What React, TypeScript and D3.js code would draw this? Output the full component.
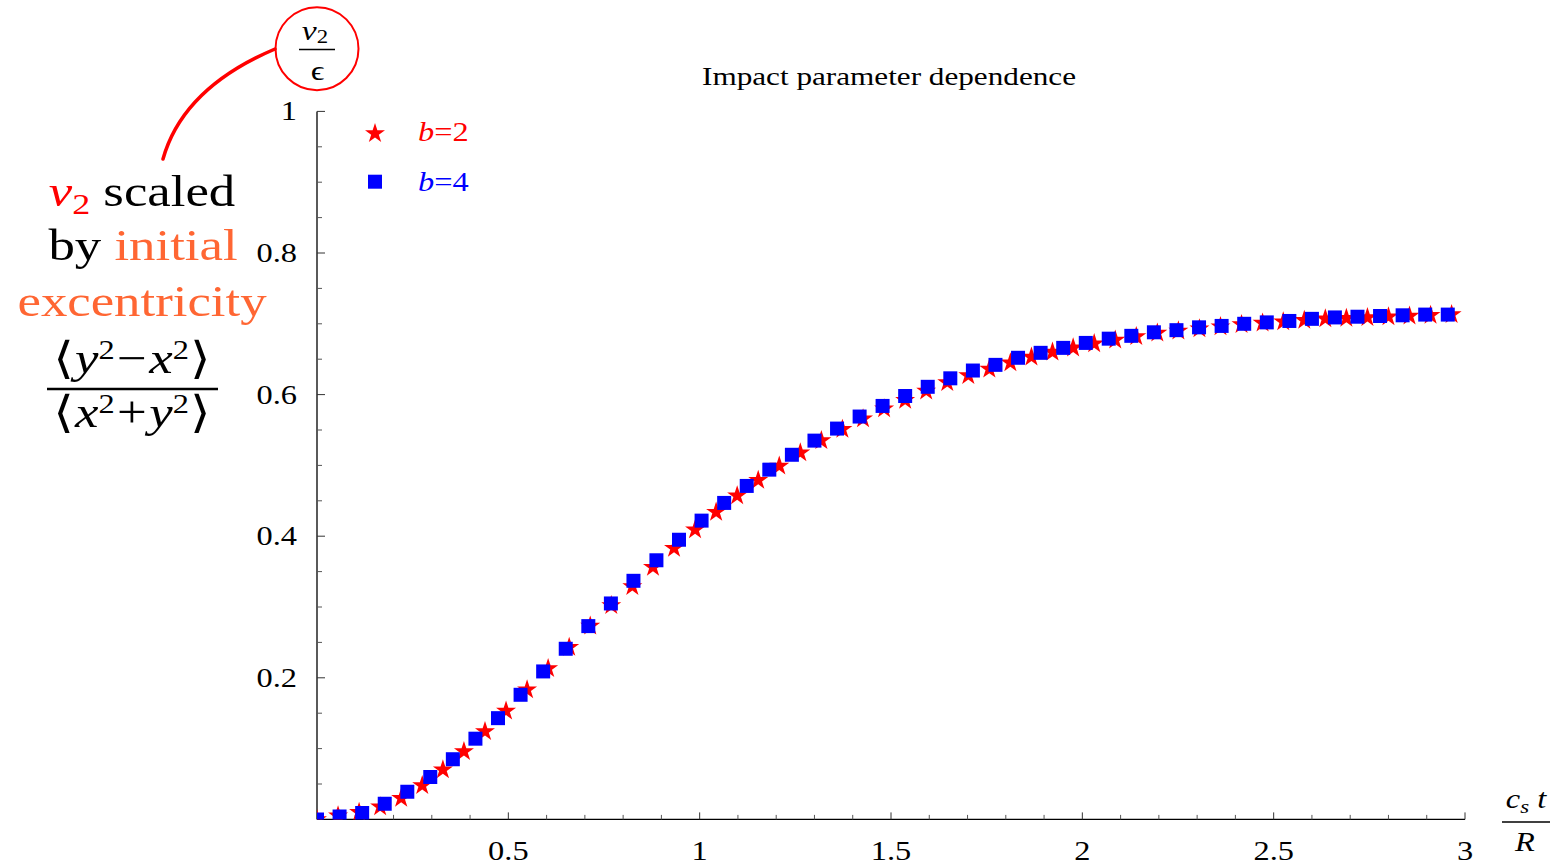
import React from 'react';
import * as d3 from 'd3';

const WIDTH = 1554;
const HEIGHT = 866;

// Time in units of c_s t / R for the b=2 run
const b2Time = [
  0, 0.055, 0.11, 0.165, 0.22, 0.275, 0.329, 0.384, 0.439, 0.494,
  0.549, 0.604, 0.659, 0.714, 0.769, 0.824, 0.878, 0.933, 0.988, 1.043,
  1.098, 1.153, 1.208, 1.263, 1.318, 1.373, 1.427, 1.482, 1.537, 1.592,
  1.647, 1.702, 1.757, 1.812, 1.867, 1.922, 1.976, 2.031, 2.086, 2.141,
  2.196, 2.251, 2.306, 2.361, 2.416, 2.471, 2.525, 2.58, 2.635, 2.69,
  2.745, 2.8, 2.855, 2.91, 2.965,
];
// v2 / epsilon for b=2
const b2Flow = [
  0, 0.005, 0.01, 0.018, 0.03, 0.048, 0.07, 0.096, 0.124, 0.153,
  0.183, 0.213, 0.243, 0.273, 0.302, 0.329, 0.356, 0.383, 0.409, 0.434,
  0.457, 0.479, 0.499, 0.518, 0.535, 0.551, 0.566, 0.58, 0.592, 0.605,
  0.617, 0.627, 0.636, 0.645, 0.653, 0.66, 0.666, 0.672, 0.677, 0.682,
  0.687, 0.69, 0.693, 0.696, 0.699, 0.701, 0.703, 0.705, 0.707, 0.708,
  0.709, 0.71, 0.711, 0.712, 0.713,
];

// Time in units of c_s t / R for the b=4 run
const b4Time = [
  0, 0.059, 0.118, 0.177, 0.236, 0.296, 0.355, 0.414, 0.473, 0.532,
  0.591, 0.65, 0.709, 0.768, 0.827, 0.887, 0.946, 1.005, 1.064, 1.123,
  1.182, 1.241, 1.3, 1.359, 1.418, 1.478, 1.537, 1.596, 1.655, 1.714,
  1.773, 1.832, 1.891, 1.95, 2.009, 2.069, 2.128, 2.187, 2.246, 2.305,
  2.364, 2.423, 2.482, 2.541, 2.6, 2.66, 2.719, 2.778, 2.837, 2.896,
  2.955,
];
// v2 / epsilon for b=4
const b4Flow = [
  0, 0.004, 0.009, 0.022, 0.039, 0.06, 0.085, 0.114, 0.143, 0.176,
  0.209, 0.241, 0.273, 0.305, 0.337, 0.366, 0.395, 0.422, 0.447, 0.471,
  0.494, 0.515, 0.535, 0.552, 0.569, 0.584, 0.598, 0.611, 0.623, 0.634,
  0.642, 0.652, 0.659, 0.666, 0.673, 0.679, 0.683, 0.688, 0.691, 0.695,
  0.697, 0.7, 0.702, 0.704, 0.707, 0.709, 0.71, 0.711, 0.712, 0.713,
  0.713,
];

const xMajorTicks = [0.5, 1, 1.5, 2, 2.5, 3];
const xTickLabels = ['0.5', '1', '1.5', '2', '2.5', '3'];
const yMajorTicks = [0.2, 0.4, 0.6, 0.8, 1];
const yTickLabels = ['0.2', '0.4', '0.6', '0.8', '1'];

const SERIF = "'Liberation Serif', 'Times New Roman', serif";
const MATH = "'Liberation Serif', 'DejaVu Serif', serif";
const WIDE = 1.2;
const RED = '#ff0000';
const BLUE = '#0000ff';
const ORANGE = '#ff6633';

// Text set slightly wider than the font's natural proportions
function Wide({ x, y, children }: { x: number; y: number; children: React.ReactNode }) {
  return <g transform={`translate(${x},${y}) scale(${WIDE},1)`}>{children}</g>;
}

// <a^2 op b^2> set as a single line of math
function Moment({ x, y, a, op, b }: { x: number; y: number; a: string; op: string; b: string }) {
  return (
    <Wide x={x} y={y}>
      <text textAnchor="middle" fontSize={44} fontFamily={MATH} fill="#000">
        ⟨<tspan fontStyle="italic" dx={1}>{a}</tspan>
        <tspan fontSize={27} dy={-14}>2</tspan>
        <tspan dy={14} dx={2}>{op}</tspan>
        <tspan fontStyle="italic" dx={2}>{b}</tspan>
        <tspan fontSize={27} dy={-14}>2</tspan>
        <tspan dy={14} dx={1}>⟩</tspan>
      </text>
    </Wide>
  );
}

export default function App() {
  const x = d3.scaleLinear().domain([0, 3]).range([317, 1465]);
  const y = d3.scaleLinear().domain([0, 1]).range([819.4, 111.4]);

  const starPath = d3.symbol(d3.symbolStar, 124)() as string;
  const squarePath = d3.symbol(d3.symbolSquare, 196)() as string;

  const near = (a: number, list: number[]) => list.some((m) => Math.abs(m - a) < 1e-6);
  const xMinor = d3.range(1, 31).map((i) => i / 10).filter((v) => !near(v, xMajorTicks));
  const yMinor = d3.range(1, 21).map((i) => i / 20).filter((v) => !near(v, yMajorTicks));

  const [x0, x1] = x.range();
  const [y0, y1] = y.range();

  const b2 = b2Time.map((t, i) => [t, b2Flow[i]]);
  const b4 = b4Time.map((t, i) => [t, b4Flow[i]]);

  const leader = d3.path();
  leader.moveTo(275, 49);
  leader.quadraticCurveTo(183, 88, 163, 159);

  return (
    <svg
      width={WIDTH}
      height={HEIGHT}
      style={{ position: 'absolute', left: 0, top: 0, background: '#fff' }}
      fontFamily={SERIF}
    >
      <defs>
        <clipPath id="plotArea">
          <rect x={x0} y={y1 - 20} width={x1 - x0 + 30} height={y0 - y1 + 20} />
        </clipPath>
      </defs>

      {/* title */}
      <Wide x={889} y={85}>
        <text textAnchor="middle" fontSize={26} fill="#000">
          Impact parameter dependence
        </text>
      </Wide>

      {/* axes */}
      <line x1={x0} x2={x0} y1={y1} y2={y0} stroke="#000" strokeWidth={1.3} />
      <line x1={x0} x2={x1} y1={y0} y2={y0} stroke="#000" strokeWidth={1.3} />

      {yMajorTicks.map((v) => (
        <line key={`ym${v}`} x1={x0} x2={x0 + 8} y1={y(v)} y2={y(v)} stroke="#333" strokeWidth={1} />
      ))}
      {yMinor.map((v) => (
        <line key={`yn${v}`} x1={x0} x2={x0 + 5} y1={y(v)} y2={y(v)} stroke="#555" strokeWidth={1} />
      ))}
      {xMajorTicks.map((v) => (
        <line key={`xm${v}`} x1={x(v)} x2={x(v)} y1={y0} y2={y0 - 7} stroke="#333" strokeWidth={1} />
      ))}
      {xMinor.map((v) => (
        <line key={`xn${v}`} x1={x(v)} x2={x(v)} y1={y0} y2={y0 - 4.5} stroke="#555" strokeWidth={1} />
      ))}

      {yMajorTicks.map((v, i) => (
        <Wide key={`yl${v}`} x={297} y={y(v) + 9}>
          <text textAnchor="end" fontSize={27} fill="#000">
            {yTickLabels[i]}
          </text>
        </Wide>
      ))}
      {xMajorTicks.map((v, i) => (
        <Wide key={`xl${v}`} x={x(v)} y={860}>
          <text textAnchor="middle" fontSize={27} fill="#000">
            {xTickLabels[i]}
          </text>
        </Wide>
      ))}

      {/* x-axis label c_s t / R */}
      <Wide x={1526} y={808}>
        <text textAnchor="middle" fontSize={27} fontStyle="italic" fontFamily={MATH}>
          c<tspan fontSize={19} dy={5}>s</tspan>
          <tspan dy={-5}> t</tspan>
        </text>
      </Wide>
      <line x1={1502} x2={1550} y1={822} y2={822} stroke="#000" strokeWidth={1.5} />
      <Wide x={1525} y={851}>
        <text textAnchor="middle" fontSize={27} fontStyle="italic" fontFamily={MATH}>
          R
        </text>
      </Wide>

      {/* data */}
      <g clipPath="url(#plotArea)">
        {b2.map(([t, v], i) => (
          <path key={`s${i}`} d={starPath} transform={`translate(${x(t)},${y(v)})`} fill={RED} />
        ))}
        {b4.map(([t, v], i) => (
          <path key={`q${i}`} d={squarePath} transform={`translate(${x(t)},${y(v)})`} fill={BLUE} />
        ))}
      </g>

      {/* legend */}
      <path d={starPath} transform="translate(375,133.5)" fill={RED} />
      <Wide x={418} y={141}>
        <text fontSize={27} fill={RED}>
          <tspan fontStyle="italic">b</tspan>=2
        </text>
      </Wide>
      <path d={squarePath} transform="translate(375,181.7)" fill={BLUE} />
      <Wide x={418} y={191}>
        <text fontSize={27} fill={BLUE}>
          <tspan fontStyle="italic">b</tspan>=4
        </text>
      </Wide>

      {/* y-axis annotation */}
      <circle cx={317} cy={48.7} r={41.5} fill="none" stroke={RED} strokeWidth={2} />
      <Wide x={315} y={40}>
        <text textAnchor="middle" fontSize={28} fontFamily={MATH}>
          <tspan fontStyle="italic">v</tspan>
          <tspan fontSize={19} dy={3}>2</tspan>
        </text>
      </Wide>
      <line x1={299} x2={335} y1={49.5} y2={49.5} stroke="#000" strokeWidth={1.5} />
      <Wide x={317.5} y={80}>
        <text textAnchor="middle" fontSize={28} fontFamily={MATH}>
          ϵ
        </text>
      </Wide>
      <path d={leader.toString()} fill="none" stroke={RED} strokeWidth={3.5} strokeLinecap="round" />

      <Wide x={142} y={206}>
        <text textAnchor="middle" fontSize={44}>
          <tspan fill={RED} fontStyle="italic" fontFamily={MATH}>v</tspan>
          <tspan fill={RED} fontSize={30} dy={8}>2</tspan>
          <tspan fill="#000" dy={-8}> scaled</tspan>
        </text>
      </Wide>
      <Wide x={143} y={260}>
        <text textAnchor="middle" fontSize={44}>
          <tspan fill="#000">by </tspan>
          <tspan fill={ORANGE}>initial</tspan>
        </text>
      </Wide>
      <Wide x={142} y={316}>
        <text textAnchor="middle" fontSize={44} fill={ORANGE}>
          excentricity
        </text>
      </Wide>

      <Moment x={132} y={373} a="y" op="−" b="x" />
      <line x1={47} x2={218} y1={389} y2={389} stroke="#000" strokeWidth={2.5} />
      <Moment x={132} y={427} a="x" op="+" b="y" />
    </svg>
  );
}
